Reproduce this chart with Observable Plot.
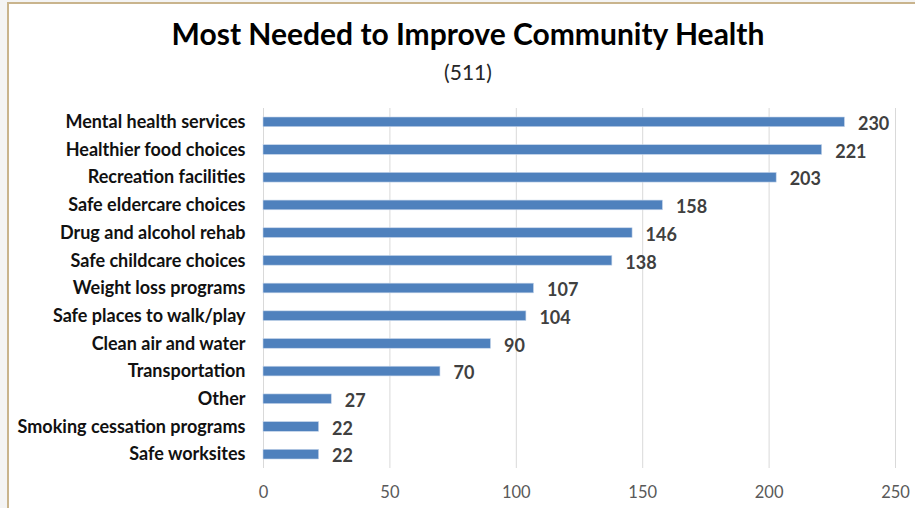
<!DOCTYPE html>
<html>
<head>
<meta charset="utf-8">
<script src="https://cdn.jsdelivr.net/npm/d3@7"></script>
<script src="https://cdn.jsdelivr.net/npm/@observablehq/plot@0.6"></script>
<style>
  html, body { margin: 0; padding: 0; background: #f4f4f4; }
  #frame { position: relative; width: 915px; height: 508px; overflow: hidden; background: #f4f4f4; font-family: Lato, "Open Sans", sans-serif; }
  #card { position: absolute; left: 7px; top: 2px; width: 920px; height: 520px; background: #ffffff; border-left: 2px solid #c9b48d; border-top: 2px solid #c9b48d; }
  #title { position: absolute; left: 0; width: 936px; top: 15px; text-align: center; font-weight: 700; font-size: 30px; color: #000; }
  #subtitle { position: absolute; left: 0; width: 936px; top: 59px; text-align: center; font-size: 21px; color: #262626; }
  #chart { position: absolute; left: 0; top: 95px; }
</style>
</head>
<body>
<div id="frame">
  <div id="card"></div>
  <div id="title">Most Needed to Improve Community Health</div>
  <div id="subtitle">(511)</div>
  <div id="chart"></div>
</div>
<script>
const categories = [
  "Mental health services",
  "Healthier food choices",
  "Recreation facilities",
  "Safe eldercare choices",
  "Drug and alcohol rehab",
  "Safe childcare choices",
  "Weight loss programs",
  "Safe places to walk/play",
  "Clean air and water",
  "Transportation",
  "Other",
  "Smoking cessation programs",
  "Safe worksites"
];
const counts = [230, 221, 203, 158, 146, 138, 107, 104, 90, 70, 27, 22, 22];
const xTicks = [0, 50, 100, 150, 200, 250];

const data = categories.map((c, i) => ({category: c, count: counts[i]}));

const chart = Plot.plot({
  width: 915,
  height: 413,
  marginTop: 13,
  marginBottom: 40,
  marginLeft: 263,
  marginRight: 20,
  style: {fontFamily: "Lato, 'Open Sans', sans-serif", background: "transparent", overflow: "visible"},
  x: {domain: [0, 250], ticks: xTicks, label: null},
  y: {domain: categories, label: null, paddingInner: 0.65, paddingOuter: 0.325, round: false},
  marks: [
    Plot.ruleX(xTicks, {stroke: "#d9d9d9", strokeWidth: 1}),
    Plot.barX(data, {x: "count", y: "category", fill: "#4f81bd", stroke: "#c6d5ea", strokeWidth: 0.6}),
    Plot.text(data, {x: "count", y: "category", text: d => String(d.count), textAnchor: "start", dx: 13, dy: 2, fontSize: 18, fontWeight: "bold", fill: "#404040"}),
    Plot.axisX({ticks: xTicks, tickSize: 0, tickPadding: 18, fontSize: 16.5, color: "#595959", label: null}),
    Plot.axisY({tickSize: 0, tickPadding: 18, fontSize: 18, fontWeight: "bold", color: "#111", label: null})
  ]
});
document.getElementById("chart").appendChild(chart);
</script>
</body>
</html>
